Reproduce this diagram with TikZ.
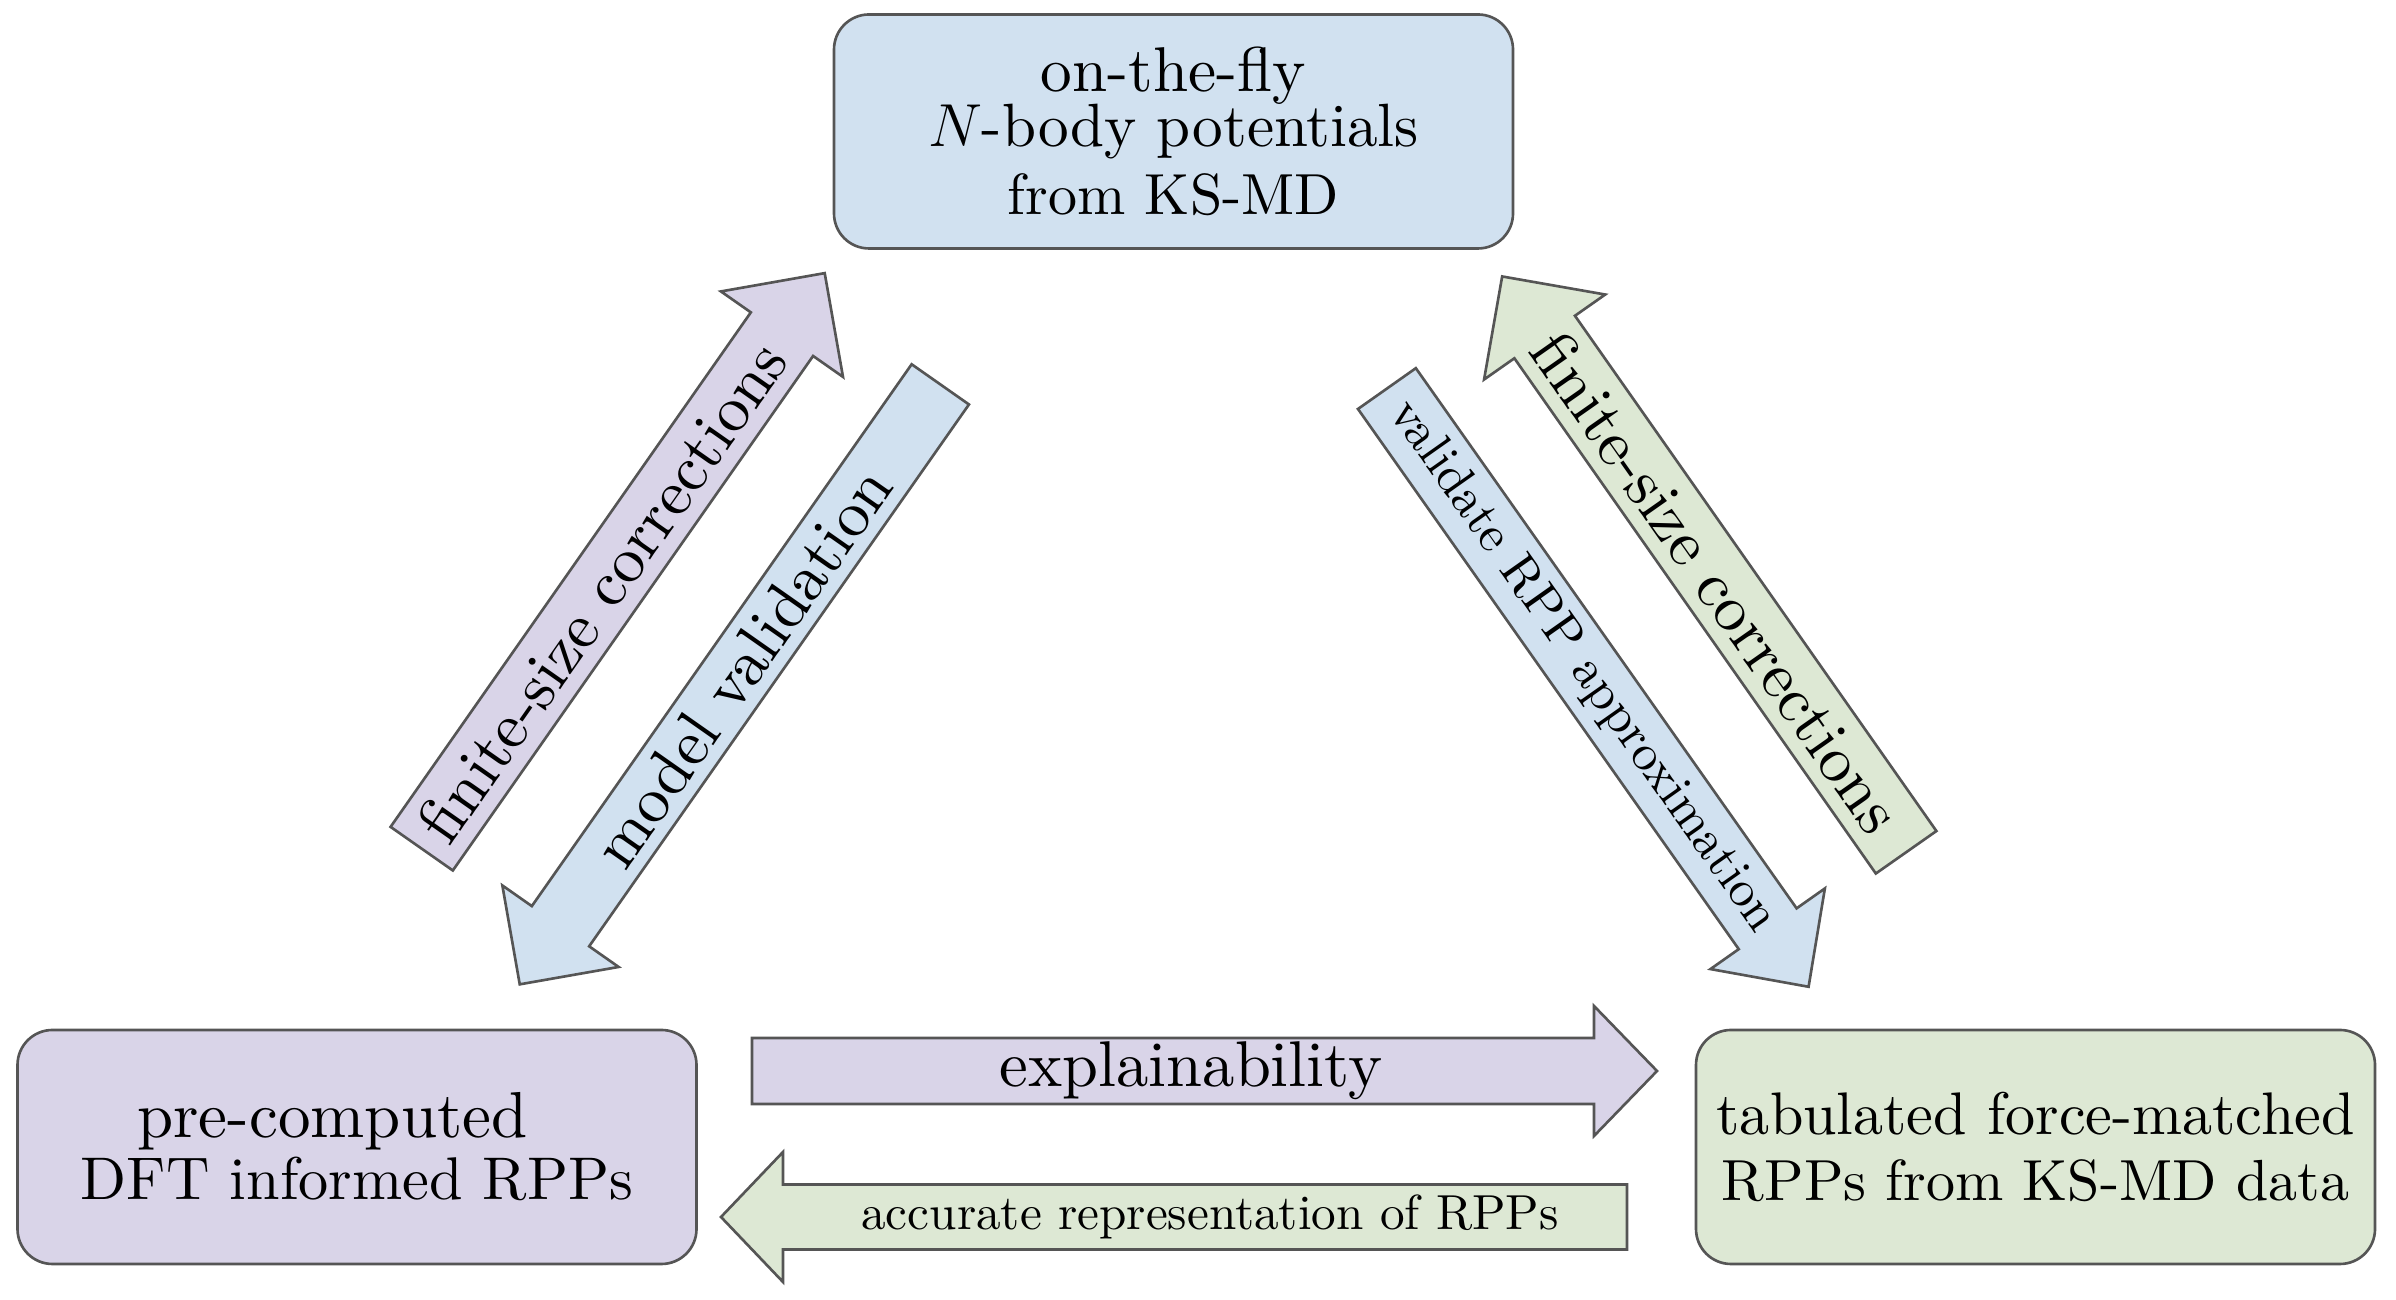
\documentclass[tikz,border=0pt]{standalone}
\usepackage{fontspec}
\setmainfont{lmroman10-regular.otf}[ItalicFont=lmroman10-italic.otf,BoldFont=lmroman10-bold.otf]
\usetikzlibrary{calc}
\definecolor{cblue}{RGB}{209,225,240}
\definecolor{cpurple}{RGB}{217,212,232}
\definecolor{cgreen}{RGB}{221,232,212}
\definecolor{cedge}{RGB}{85,85,85}
\newcommand{\fsz}[1]{\fontsize{#1}{1.2\dimexpr #1pt\relax}\selectfont}
\tikzset{
  box/.style={draw=cedge, line width=0.75pt, rounded corners=0.35cm,
    minimum width=6.79cm, minimum height=2.34cm, inner sep=0pt, align=center},
  barrow/.style={draw=cedge, line width=0.75pt, line join=miter},
  bigtext/.style={font=\fontsize{18.4}{22}\selectfont, inner sep=0pt},
  smalltext/.style={font=\fontsize{14.5}{17}\selectfont, inner sep=0pt},
}
\begin{document}
\begin{tikzpicture}
\useasboundingbox (0,0) rectangle (23.96,13);

% boxes
\node[box, fill=cblue, font=\fontsize{17.28}{19.3}\selectfont] (top) at (11.735,11.685)
  {{\fontsize{18}{19.3}\selectfont on-the-fly}\\[-3.7pt]{\fontsize{17.4}{19.3}\selectfont $N$-body potentials}\\{\fontsize{16.5}{19.3}\selectfont from KS-MD}};
\node[box, fill=cpurple, font=\fontsize{17.28}{17.6}\selectfont] (pre) at (3.57,1.53)
  {{\fontsize{18.5}{17.6}\selectfont pre-computed\kern14pt}\\{\fontsize{17.15}{17.6}\selectfont DFT informed RPPs}};
\node[box, fill=cgreen, font=\fontsize{17.28}{18.8}\selectfont] (tab) at (20.355,1.53)
  {{\fontsize{17.1}{18.8}\selectfont tabulated force-matched}\\{\fontsize{16.5}{18.8}\selectfont RPPs from KS-MD data}};

% explainability (pre -> tab)
\coordinate (a1) at (7.52,2.29);
\begin{scope}[shift={(a1)}]
  \draw[barrow, fill=cpurple] (0,-0.33) -- (8.42,-0.33) -- (8.42,-0.65) -- (9.05,0)
    -- (8.42,0.65) -- (8.42,0.33) -- (0,0.33) -- cycle;
  \node[bigtext] (l1) at (4.39,0) {explainability};
\end{scope}

% accurate representation (tab -> pre)
\coordinate (a2) at (16.27,0.83);
\begin{scope}[shift={(a2)}, rotate=180]
  \draw[barrow, fill=cgreen] (0,-0.325) -- (8.44,-0.325) -- (8.44,-0.65) -- (9.06,0)
    -- (8.44,0.65) -- (8.44,0.325) -- (0,0.325) -- cycle;
  \node[smalltext, font=\fontsize{14.0}{17}\selectfont] (l2) at (4.17,0) {accurate representation of RPPs};
\end{scope}

% finite-size corrections (pre -> top)
\coordinate (a3) at (4.217,4.513);
\begin{scope}[shift={(a3)}, rotate=55.0]
  \draw[barrow, fill=cpurple] (0,-0.38) -- (6.281,-0.38) -- (6.281,-0.745) -- (7.026,0)
    -- (6.281,0.745) -- (6.281,0.38) -- (0,0.38) -- cycle;
  \node[bigtext, rotate=55.0] (l3) at (3.14,0) {finite-size corrections};
\end{scope}

% model validation (top -> pre)
\coordinate (a4) at (9.403,9.156);
\begin{scope}[shift={(a4)}, rotate=234.97]
  \draw[barrow, fill=cblue] (0,-0.35) -- (6.617,-0.35) -- (6.617,-0.71) -- (7.327,0)
    -- (6.617,0.71) -- (6.617,0.35) -- (0,0.35) -- cycle;
  \node[bigtext, rotate=54.97] (l4) at (3.45,0) {model validation};
\end{scope}

% finite-size corrections (tab -> top)
\coordinate (a5) at (19.061,4.477);
\begin{scope}[shift={(a5)}, rotate=125.05]
  \draw[barrow, fill=cgreen] (0,-0.37) -- (6.294,-0.37) -- (6.294,-0.74) -- (7.034,0)
    -- (6.294,0.74) -- (6.294,0.37) -- (0,0.37) -- cycle;
  \node[bigtext, rotate=-54.95] (l5) at (3.3,0) {finite-size corrections};
\end{scope}

% validate RPP approximation (top -> tab)
\coordinate (a6) at (13.869,9.114);
\begin{scope}[shift={(a6)}, rotate=-54.82]
  \draw[barrow, fill=cblue] (0,-0.354) -- (6.609,-0.354) -- (6.609,-0.70) -- (7.319,0)
    -- (6.609,0.70) -- (6.609,0.354) -- (0,0.354) -- cycle;
  \node[smalltext, rotate=-54.82] (l6) at (3.4,0) {validate RPP approximation};
\end{scope}
\end{tikzpicture}
\end{document}
